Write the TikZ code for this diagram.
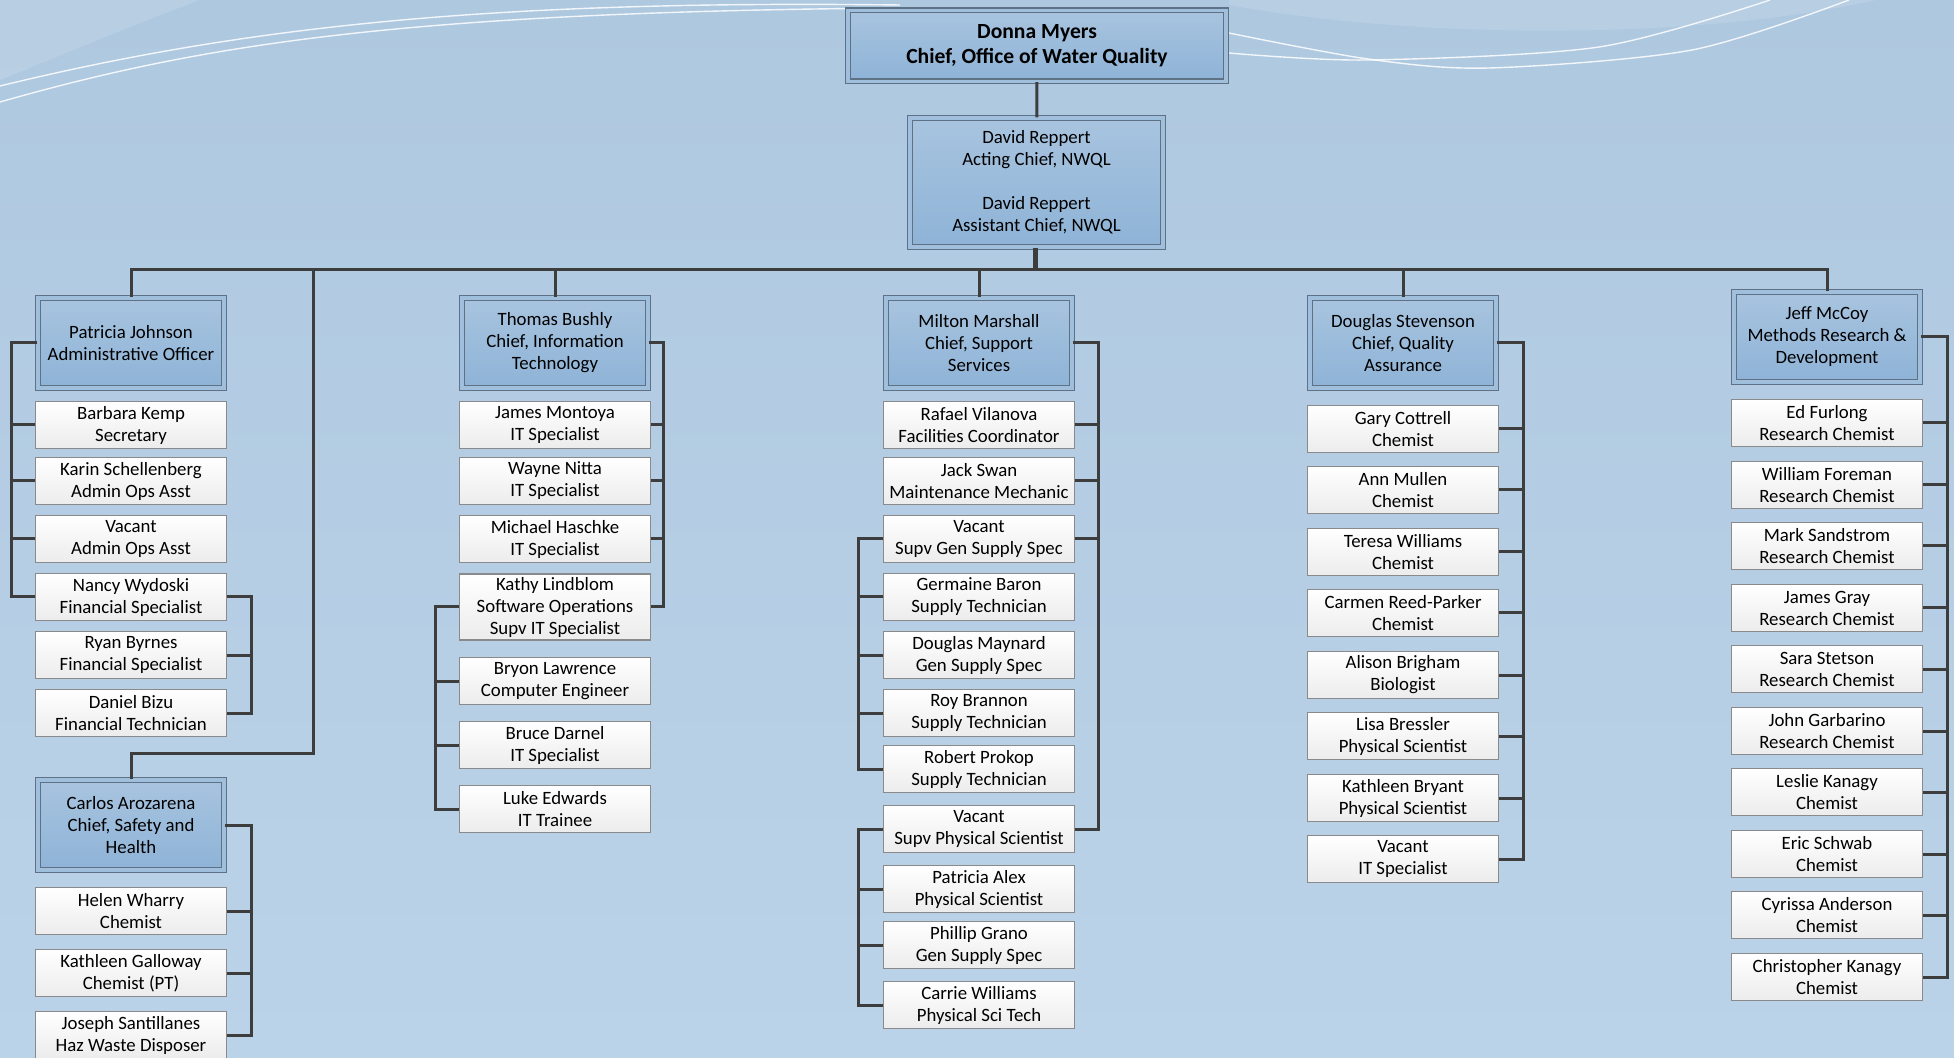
\documentclass[tikz,border=0pt]{standalone}
\usepackage{fontspec}
\setmainfont{Carlito}
\definecolor{bgtop}{HTML}{AEC8E0}
\definecolor{bgbot}{HTML}{BBD3E8}
\definecolor{headtop}{HTML}{A8C4DF}
\definecolor{headbot}{HTML}{8EB3D7}
\definecolor{headline}{HTML}{5E7185}
\definecolor{boxline}{HTML}{8A8A8A}
\definecolor{boxbot}{HTML}{ECECEC}
\definecolor{linkcol}{HTML}{3D3D3D}
\tikzset{
    head/.style={draw=headline, line width=0.7pt, double=headtop!70!headbot,
        double distance=1.6pt, top color=headtop, bottom color=headbot,
        align=center, inner sep=1pt, minimum width=93pt, minimum height=45pt,
        font=\fontsize{9.4}{11}\selectfont},
    staff/.style={draw=boxline, line width=0.6pt, top color=white, bottom color=boxbot,
        align=center, inner xsep=1pt, inner ysep=1.5pt, minimum width=95.4pt,
        minimum height=23.4pt, font=\fontsize{9.4}{11}\selectfont},
    link/.style={draw=linkcol, line width=1.5pt},
    swoosh/.style={draw=white, line width=0.7pt, opacity=0.85},
}
\begin{document}
\begin{tikzpicture}[x=0.5pt, y=-0.5pt]
        \useasboundingbox (0,0) rectangle (1954,1058);
        \shade[top color=bgtop, bottom color=bgbot] (0,0) rectangle (1954,1058);
        % light waves at the top
        \fill[white, opacity=0.12] (0,0) -- (200,0) .. controls (120,30) and (50,60) .. (0,80) -- cycle;
        \fill[white, opacity=0.12] (1229,0) -- (1229,5) .. controls (1420,40) and (1700,40) .. (1876,0) -- cycle;
        \draw[swoosh] (0,86) .. controls (250,25) and (500,0) .. (900,5);
        \draw[swoosh] (0,102) .. controls (200,45) and (400,12) .. (900,8);
        \draw[swoosh] plot[smooth] coordinates {(1229,33) (1368,59) (1489,68) (1692,50) (1849,0)};
        \draw[swoosh] plot[smooth] coordinates {(1229,53) (1368,60) (1599,47) (1770,0)};

        \begin{scope}
            \node[head, minimum width=189pt, minimum height=35.5pt,
                font=\fontsize{10.8}{12.3}\selectfont\bfseries] (myers) at (1037, 46)
                {Donna Myers\\Chief, Office of Water Quality};
            \node[head, minimum width=126.5pt, minimum height=64.5pt] (reppert) at (1036.5, 182.5)
                {David Reppert\\Acting Chief, NWQL\\[11pt]David Reppert\\Assistant Chief, NWQL};
        \end{scope}
        \begin{scope}
            \node[head] (johnson) at (131, 343) {Patricia Johnson\\Administrative Officer};
            \node[staff] (kemp) at (131, 425) {Barbara Kemp\\Secretary};
            \node[staff] (schellenberg) at (131, 481) {Karin Schellenberg\\Admin Ops Asst};
            \node[staff] (vacadmin) at (131, 539) {Vacant\\Admin Ops Asst};
            \node[staff] (wydoski) at (131, 597) {Nancy Wydoski\\Financial Specialist};
            \node[staff] (byrnes) at (131, 655) {Ryan Byrnes\\Financial Specialist};
            \node[staff] (bizu) at (131, 713) {Daniel Bizu\\Financial Technician};
            \node[head] (arozarena) at (131, 825) {Carlos Arozarena\\Chief, Safety and\\Health};
            \node[staff] (wharry) at (131, 911) {Helen Wharry\\Chemist};
            \node[staff] (galloway) at (131, 973) {Kathleen Galloway\\Chemist (PT)};
            \node[staff] (santillanes) at (131, 1035) {Joseph Santillanes\\Haz Waste Disposer};
        \end{scope}
        \begin{scope}
            \node[head] (bushly) at (555, 343) {Thomas Bushly\\Chief, Information\\Technology};
            \node[staff] (montoya) at (555, 425) {James Montoya\\IT Specialist};
            \node[staff] (nitta) at (555, 481) {Wayne Nitta\\IT Specialist};
            \node[staff] (haschke) at (555, 539) {Michael Haschke\\IT Specialist};
            \node[staff] (lindblom) at (555, 607) {Kathy Lindblom\\Software Operations\\Supv IT Specialist};
            \node[staff] (lawrence) at (555, 681) {Bryon Lawrence\\Computer Engineer};
            \node[staff] (darnel) at (555, 745) {Bruce Darnel\\IT Specialist};
            \node[staff] (edwards) at (555, 809) {Luke Edwards\\IT Trainee};
        \end{scope}
        \begin{scope}
            \node[head] (marshall) at (979, 343) {Milton Marshall\\Chief, Support\\Services};
            \node[staff] (vilanova) at (979, 425) {Rafael Vilanova\\Facilities Coordinator};
            \node[staff] (swan) at (979, 481) {Jack Swan\\Maintenance Mechanic};
            \node[staff] (vacsupply) at (979, 539) {Vacant\\Supv Gen Supply Spec};
            \node[staff] (baron) at (979, 597) {Germaine Baron\\Supply Technician};
            \node[staff] (maynard) at (979, 655) {Douglas Maynard\\Gen Supply Spec};
            \node[staff] (brannon) at (979, 713) {Roy Brannon\\Supply Technician};
            \node[staff] (prokop) at (979, 769) {Robert Prokop\\Supply Technician};
            \node[staff] (vacphys) at (979, 829) {Vacant\\Supv Physical Scientist};
            \node[staff] (alex) at (979, 889) {Patricia Alex\\Physical Scientist};
            \node[staff] (grano) at (979, 945) {Phillip Grano\\Gen Supply Spec};
            \node[staff] (cwilliams) at (979, 1005) {Carrie Williams\\Physical Sci Tech};
        \end{scope}
        \begin{scope}
            \node[head] (stevenson) at (1403, 343) {Douglas Stevenson\\Chief, Quality\\Assurance};
            \node[staff] (cottrell) at (1403, 429) {Gary Cottrell\\Chemist};
            \node[staff] (mullen) at (1403, 490) {Ann Mullen\\Chemist};
            \node[staff] (twilliams) at (1403, 552) {Teresa Williams\\Chemist};
            \node[staff] (reedparker) at (1403, 613) {Carmen Reed-Parker\\Chemist};
            \node[staff] (brigham) at (1403, 675) {Alison Brigham\\Biologist};
            \node[staff] (bressler) at (1403, 736) {Lisa Bressler\\Physical Scientist};
            \node[staff] (bryant) at (1403, 798) {Kathleen Bryant\\Physical Scientist};
            \node[staff] (vacit) at (1403, 859) {Vacant\\IT Specialist};
        \end{scope}
        \begin{scope}
            \node[head] (mccoy) at (1827, 337) {Jeff McCoy\\Methods Research \&\\Development};
            \node[staff] (furlong) at (1827, 423) {Ed Furlong\\Research Chemist};
            \node[staff] (foreman) at (1827, 485) {William Foreman\\Research Chemist};
            \node[staff] (sandstrom) at (1827, 546) {Mark Sandstrom\\Research Chemist};
            \node[staff] (gray) at (1827, 608) {James Gray\\Research Chemist};
            \node[staff] (stetson) at (1827, 669) {Sara Stetson\\Research Chemist};
            \node[staff] (garbarino) at (1827, 731) {John Garbarino\\Research Chemist};
            \node[staff] (lkanagy) at (1827, 792) {Leslie Kanagy\\Chemist};
            \node[staff] (schwab) at (1827, 854) {Eric Schwab\\Chemist};
            \node[staff] (anderson) at (1827, 915) {Cyrissa Anderson\\Chemist};
            \node[staff] (ckanagy) at (1827, 977) {Christopher Kanagy\\Chemist};
        \end{scope}

        % bus and bracket lines
        \coordinate (bus) at (1035, 270);
        \coordinate (safety) at (313, 753);
        \coordinate (adminl) at (11, 0);
        \coordinate (finr) at (251, 0);
        \coordinate (itr) at (663, 0);
        \coordinate (itl) at (435, 0);
        \coordinate (supr) at (1098, 0);
        \coordinate (supl) at (858, 0);
        \coordinate (qar) at (1523, 0);
        \coordinate (mrdr) at (1947, 0);

        \begin{scope}[link]
            \path (myers) edge (reppert);
            \draw[line width=2.5pt] (reppert.south -| bus) -- (bus);
            \draw (johnson.north) |- (bus) -| (mccoy.north);
            \path (bushly.north) edge (bushly.north |- bus);
            \path (marshall.north) edge (marshall.north |- bus);
            \path (stevenson.north) edge (stevenson.north |- bus);
            \draw (safety |- bus) -- (safety) -| (arozarena.north);

            \draw (johnson.west) -| (adminl |- wydoski.west) -- (wydoski.west);
            \path (kemp.west) edge (adminl |- kemp.west);
            \path (schellenberg.west) edge (adminl |- schellenberg.west);
            \path (vacadmin.west) edge (adminl |- vacadmin.west);
            \draw (wydoski.east) -| (finr |- bizu.east) -- (bizu.east);
            \path (byrnes.east) edge (finr |- byrnes.east);
            \draw (arozarena.east) -| (finr |- santillanes.east) -- (santillanes.east);
            \path (wharry.east) edge (finr |- wharry.east);
            \path (galloway.east) edge (finr |- galloway.east);

            \draw (bushly.east) -| (itr |- lindblom.east) -- (lindblom.east);
            \path (montoya.east) edge (itr |- montoya.east);
            \path (nitta.east) edge (itr |- nitta.east);
            \path (haschke.east) edge (itr |- haschke.east);
            \draw (lindblom.west) -| (itl |- edwards.west) -- (edwards.west);
            \path (lawrence.west) edge (itl |- lawrence.west);
            \path (darnel.west) edge (itl |- darnel.west);

            \draw (marshall.east) -| (supr |- vacphys.east) -- (vacphys.east);
            \path (vilanova.east) edge (supr |- vilanova.east);
            \path (swan.east) edge (supr |- swan.east);
            \path (vacsupply.east) edge (supr |- vacsupply.east);
            \draw (vacsupply.west) -| (supl |- prokop.west) -- (prokop.west);
            \path (baron.west) edge (supl |- baron.west);
            \path (maynard.west) edge (supl |- maynard.west);
            \path (brannon.west) edge (supl |- brannon.west);
            \draw (vacphys.west) -| (supl |- cwilliams.west) -- (cwilliams.west);
            \path (alex.west) edge (supl |- alex.west);
            \path (grano.west) edge (supl |- grano.west);

            \draw (stevenson.east) -| (qar |- vacit.east) -- (vacit.east);
            \path (cottrell.east) edge (qar |- cottrell.east);
            \path (mullen.east) edge (qar |- mullen.east);
            \path (twilliams.east) edge (qar |- twilliams.east);
            \path (reedparker.east) edge (qar |- reedparker.east);
            \path (brigham.east) edge (qar |- brigham.east);
            \path (bressler.east) edge (qar |- bressler.east);
            \path (bryant.east) edge (qar |- bryant.east);

            \draw (mccoy.east) -| (mrdr |- ckanagy.east) -- (ckanagy.east);
            \path (furlong.east) edge (mrdr |- furlong.east);
            \path (foreman.east) edge (mrdr |- foreman.east);
            \path (sandstrom.east) edge (mrdr |- sandstrom.east);
            \path (gray.east) edge (mrdr |- gray.east);
            \path (stetson.east) edge (mrdr |- stetson.east);
            \path (garbarino.east) edge (mrdr |- garbarino.east);
            \path (lkanagy.east) edge (mrdr |- lkanagy.east);
            \path (schwab.east) edge (mrdr |- schwab.east);
            \path (anderson.east) edge (mrdr |- anderson.east);
        \end{scope}
    \end{tikzpicture}
\end{document}
